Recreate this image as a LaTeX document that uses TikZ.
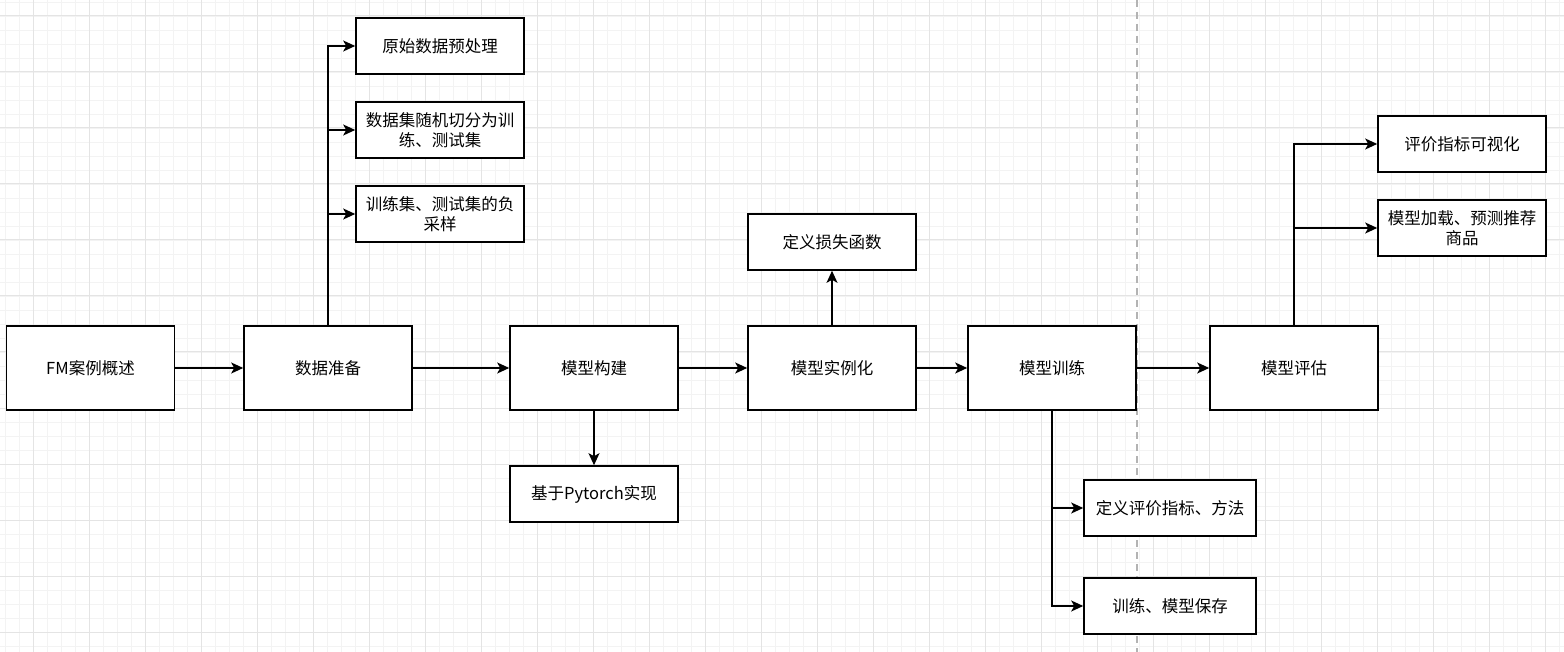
\documentclass[tikz,border=0pt]{standalone}
\usepackage{fontspec}
\setmainfont{Noto Sans CJK SC}
\usetikzlibrary{arrows.meta}
\usepackage{xcolor}
\definecolor{gridminor}{HTML}{F3F3F3}
\definecolor{gridmajor}{HTML}{E4E4E4}
\definecolor{sepgray}{HTML}{B3B3B3}
\tikzset{
    box/.style={draw,line width=1.6pt,fill=white,minimum width=168,
        minimum height=84,align=center,inner sep=2pt,
        font=\fontsize{16.5}{20}\selectfont},
    subbox/.style={box,minimum height=56},
    arr/.style={line width=1.6pt,-{Stealth[length=12pt,width=11pt,inset=3pt]}},
}
\newcommand{\background} {
    \clip (0,0) rectangle (1564,652);
    \fill[white] (0,0) rectangle (1564,652);
    \foreach \gx in {5,19,...,1564}
        \draw[gridminor,line width=0.8pt] (\gx,0) -- (\gx,652);
    \foreach \gy in {2,16,...,652}
        \draw[gridminor,line width=0.8pt] (0,\gy) -- (1564,\gy);
    \foreach \gx in {33,89,...,1564}
        \draw[gridmajor,line width=1pt] (\gx,0) -- (\gx,652);
    \foreach \gy in {16,72,...,652}
        \draw[gridmajor,line width=1pt] (0,\gy) -- (1564,\gy);
    \draw[sepgray,line width=1.6pt,dash pattern=on 7pt off 5pt] (1137,0) -- (1137,652);
}

\begin{document}
\begin{tikzpicture}[x=1pt,y=-1pt]
    \background
    % main line
    \node[box] (fm) at (90.5,368) {FM案例概述};
    \node[box] (prep) at (328,368) {数据准备};
    \node[box] (build) at (594,368) {模型构建};
    \node[box] (inst) at (832,368) {模型实例化};
    \node[box] (train) at (1052,368) {模型训练};
    \node[box] (eval) at (1294,368) {模型评估};
    % sub steps
    \node[subbox] (raw) at (440,46) {原始数据预处理};
    \node[subbox] (split) at (440,130) {数据集随机切分为训\\练、测试集};
    \node[subbox] (negsamp) at (440,214) {训练集、测试集的负\\采样};
    \node[subbox] (torch) at (594,494) {基于Pytorch实现};
    \node[subbox] (loss) at (832,242) {定义损失函数};
    \node[subbox,minimum width=172] (metric) at (1170,508) {定义评价指标、方法};
    \node[subbox,minimum width=172] (save) at (1170,606) {训练、模型保存};
    \node[subbox] (vis) at (1462,144) {评价指标可视化};
    \node[subbox] (load) at (1462,228) {模型加载、预测推荐\\商品};

    \draw[arr] (fm) -- (prep);
    \draw[arr] (prep) -- (build);
    \draw[arr] (build) -- (inst);
    \draw[arr] (inst) -- (train);
    \draw[arr] (train) -- (eval);

    \draw[arr] (prep.north) |- (raw.west);
    \draw[arr] (prep.north) |- (split.west);
    \draw[arr] (prep.north) |- (negsamp.west);
    \draw[arr] (build) -- (torch);
    \draw[arr] (inst) -- (loss);
    \draw[arr] (train.south) |- (metric.west);
    \draw[arr] (train.south) |- (save.west);
    \draw[arr] (eval.north) |- (vis.west);
    \draw[arr] (eval.north) |- (load.west);
\end{tikzpicture}
\end{document}
